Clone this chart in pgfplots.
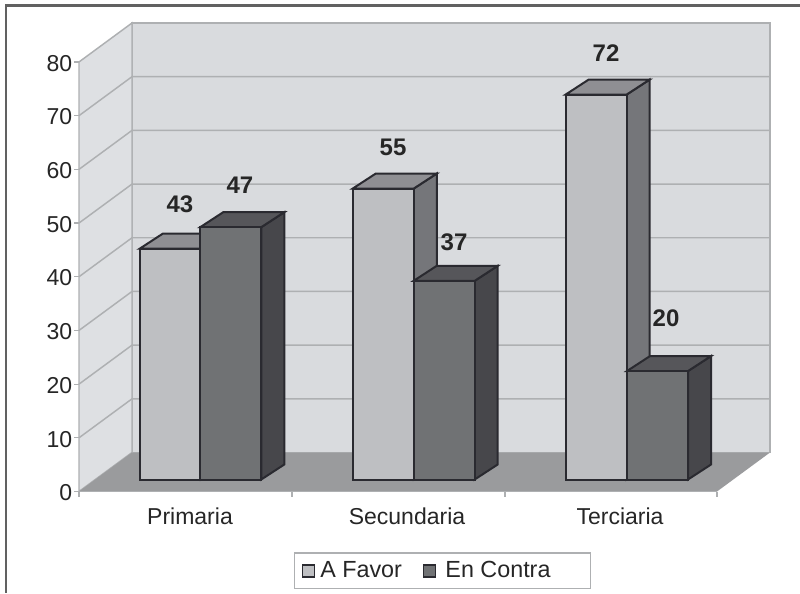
\documentclass[border=0pt]{standalone}
\usepackage{fontspec}
\setmainfont{Liberation Sans}
\usepackage{pgfplots}
\pgfplotsset{compat=1.18}
\definecolor{wallback}{HTML}{D9DBDE}
\definecolor{wallleft}{HTML}{DEE0E3}
\definecolor{floorc}{HTML}{9A9B9D}
\definecolor{gridc}{HTML}{AEB0B2}
\definecolor{edgec}{HTML}{2A2A30}
\definecolor{afront}{HTML}{BEBFC2}
\definecolor{atop}{HTML}{8F8F93}
\definecolor{aside}{HTML}{75767A}
\definecolor{bfront}{HTML}{707274}
\definecolor{btop}{HTML}{56565A}
\definecolor{bside}{HTML}{47474B}
\definecolor{textc}{HTML}{262626}
\begin{document}
\begin{tikzpicture}[x=0.75pt,y=0.75pt]
\path[use as bounding box,fill=white] (0,0) rectangle (800,593);
\draw[color=black!62,line width=1.6pt] (800,587.5) -- (6,587.5) -- (6,0);
% walls, floor, grid and axis ticks
\begin{axis}[
  at={(59.25pt,76.125pt)},anchor=south west,
  scale only axis,width=518.25pt,height=351.375pt,
  xmin=79,xmax=770,ymin=0,ymax=87.26,clip=false,
  axis x line*=bottom,axis y line*=left,
  axis line style={draw=none},
  tick align=outside,
  major tick length=3.75pt,
  tick style={color=gridc,line width=0.9pt},
  xtick={79,292,505,717},xticklabels={},
  extra x ticks={190,407,620},
  extra x tick labels={Primaria,Secundaria,Terciaria},
  extra x tick style={major tick length=0pt,tick label style={yshift=-8.8pt}},
  ytick={0,10,20,30,40,50,60,70,80},
  tick label style={font=\fontsize{17.25}{20}\selectfont,text=textc},
  y tick label style={xshift=2.2pt,yshift=-1pt},
  /pgf/number format/assume math mode=true,
]
\addplot[fill=wallback,draw=gridc,line width=1.1pt,forget plot] coordinates {(132,7.26)(770,7.26)(770,87.26)(132,87.26)} --cycle;
\addplot[fill=wallleft,draw=gridc,line width=1.1pt,forget plot] coordinates {(79,0)(132,7.26)(132,87.26)(79,80)} --cycle;
\addplot[fill=floorc,draw=none,forget plot] coordinates {(79,0)(717,0)(770,7.26)(132,7.26)} --cycle;
\addplot[draw=gridc,line width=1.1pt,forget plot] coordinates {(79,0)(717,0)};
\addplot[draw=gridc,line width=1.1pt,forget plot] coordinates {(79,10)(132,17.26)(770,17.26)};
\addplot[draw=gridc,line width=1.1pt,forget plot] coordinates {(79,20)(132,27.26)(770,27.26)};
\addplot[draw=gridc,line width=1.1pt,forget plot] coordinates {(79,30)(132,37.26)(770,37.26)};
\addplot[draw=gridc,line width=1.1pt,forget plot] coordinates {(79,40)(132,47.26)(770,47.26)};
\addplot[draw=gridc,line width=1.1pt,forget plot] coordinates {(79,50)(132,57.26)(770,57.26)};
\addplot[draw=gridc,line width=1.1pt,forget plot] coordinates {(79,60)(132,67.26)(770,67.26)};
\addplot[draw=gridc,line width=1.1pt,forget plot] coordinates {(79,70)(132,77.26)(770,77.26)};
\end{axis}
% bars: y = 0 lies on the bars' front base
\begin{axis}[
  at={(59.25pt,76.125pt)},anchor=south west,
  scale only axis,width=518.25pt,height=351.375pt,
  xmin=79,xmax=770,ymin=-2.235,ymax=85.03,clip=false,
  hide axis,
  legend columns=2,
  legend style={at={(0.3111,-0.2085)},anchor=south west,draw=gridc,line width=0.9pt,fill=white,
    font=\fontsize{17.5}{20}\selectfont,text=textc,
    inner xsep=5.2pt,inner ysep=4.5pt,
    /tikz/every even column/.append style={column sep=13.5pt}},
  legend image code/.code={\draw[#1,line width=1.1pt] (0pt,-4.5pt) rectangle (9pt,4.5pt);},
]
% A Favor
\addplot[fill=aside,draw=edgec,line width=1.5pt,forget plot] coordinates {(200.75,0)(223.75,2.79)(223.75,45.79)(200.75,43)} --cycle;
\addplot[fill=aside,draw=edgec,line width=1.5pt,forget plot] coordinates {(413.8,0)(436.8,2.79)(436.8,56.99)(413.8,54.2)} --cycle;
\addplot[fill=aside,draw=edgec,line width=1.5pt,forget plot] coordinates {(626.65,0)(649.65,2.79)(649.65,74.49)(626.65,71.7)} --cycle;
\addplot[fill=atop,draw=edgec,line width=1.5pt,forget plot] coordinates {(139.75,43)(200.75,43)(223.75,45.79)(162.75,45.79)} --cycle;
\addplot[fill=atop,draw=edgec,line width=1.5pt,forget plot] coordinates {(352.8,54.2)(413.8,54.2)(436.8,56.99)(375.8,56.99)} --cycle;
\addplot[fill=atop,draw=edgec,line width=1.5pt,forget plot] coordinates {(565.65,71.7)(626.65,71.7)(649.65,74.49)(588.65,74.49)} --cycle;
\addplot[ybar,bar width=61,fill=afront,draw=edgec,line width=1.5pt] coordinates {(170.25,43)(383.3,54.2)(596.15,71.7)};
\addlegendentry{\hspace{2pt}A Favor}
% En Contra
\addplot[fill=bside,draw=edgec,line width=1.5pt,forget plot] coordinates {(261.25,0)(284.25,2.79)(284.25,49.79)(261.25,47)} --cycle;
\addplot[fill=bside,draw=edgec,line width=1.5pt,forget plot] coordinates {(474.65,0)(497.65,2.79)(497.65,39.79)(474.65,37)} --cycle;
\addplot[fill=bside,draw=edgec,line width=1.5pt,forget plot] coordinates {(688,0)(711,2.79)(711,22.99)(688,20.2)} --cycle;
\addplot[fill=btop,draw=edgec,line width=1.5pt,forget plot] coordinates {(200.25,47)(261.25,47)(284.25,49.79)(223.25,49.79)} --cycle;
\addplot[fill=btop,draw=edgec,line width=1.5pt,forget plot] coordinates {(413.65,37)(474.65,37)(497.65,39.79)(436.65,39.79)} --cycle;
\addplot[fill=btop,draw=edgec,line width=1.5pt,forget plot] coordinates {(627,20.2)(688,20.2)(711,22.99)(650,22.99)} --cycle;
\addplot[ybar,bar width=61,fill=bfront,draw=edgec,line width=1.5pt] coordinates {(230.75,47)(444.15,37)(657.5,20.2)};
\addlegendentry{\hspace{5pt}En Contra\hspace{22.6pt}\mbox{}}
\begin{scope}[every node/.style={font=\bfseries\fontsize{18}{20}\selectfont,text=textc}]
\node at (axis cs:180,51.3) {43};
\node at (axis cs:240,54.8) {47};
\node at (axis cs:393,61.9) {55};
\node at (axis cs:454,44.2) {37};
\node at (axis cs:606,79.5) {72};
\node at (axis cs:666,30.0) {20};
\end{scope}
\end{axis}
\end{tikzpicture}
\end{document}
